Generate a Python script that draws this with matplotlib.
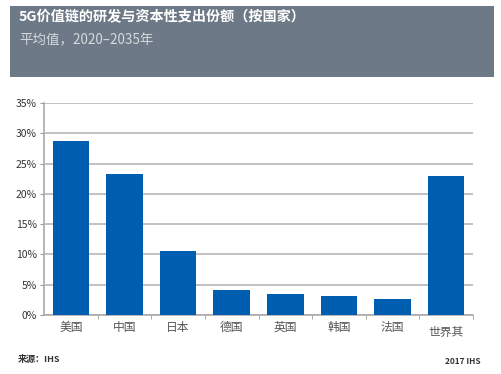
import matplotlib.pyplot as plt
from matplotlib.patches import Rectangle
from matplotlib.transforms import ScaledTranslation

plt.rcParams['font.family'] = ['Noto Sans CJK SC', 'DejaVu Sans']

# Data
countries = ["美国", "中国", "日本", "德国", "英国", "韩国", "法国", "世界其"]
shares = [28.8, 23.2, 10.6, 4.2, 3.4, 3.1, 2.7, 23.0]

fig = plt.figure(figsize=(5.02, 3.74), dpi=100)
W, H = 502, 374

# Header box
fig.patches.append(Rectangle((10 / W, 1 - 77 / H), 484 / W, 71 / H,
                             transform=fig.transFigure, facecolor="#6e7987",
                             edgecolor="none"))
fig.text(19 / W, 1 - 17 / H, "5G价值链的研发与资本性支出份额（按国家）",
         color="white", fontsize=10.2, fontweight="bold", va="center")
fig.text(19 / W, 1 - 40 / H, "平均值，2020–2035年",
         color="#d5d9de", fontsize=9.7, va="center")

ax = fig.add_axes([44 / W, 1 - 315 / H, 429 / W, 212 / H])
x = range(len(countries))
ax.bar(x, shares, width=0.68, color="#005eb0", zorder=3)

ax.set_ylim(0, 35)
ax.set_xlim(-0.5, len(countries) - 0.5)
ax.set_yticks(range(0, 36, 5))
ax.set_yticklabels([f"{v}%" for v in range(0, 36, 5)], fontsize=7.5,
                   color="#333333")
ax.grid(axis="y", color="#b8b8b8", linewidth=1.2, zorder=0)

ax.set_xticks(list(x))
ax.set_xticklabels(countries, fontsize=8.5, color="#555555")
ax.tick_params(axis="x", length=0, pad=4)
ax.set_xticks([i + 0.5 for i in range(len(countries))], minor=True)
ax.tick_params(axis="x", which="minor", length=3, color="#999999")
ax.tick_params(axis="y", length=3, color="#999999", pad=2)

# last label sits a little lower in the original
last = ax.get_xticklabels()[-1]
last.set_transform(last.get_transform() + ScaledTranslation(0, -4 / 72, fig.dpi_scale_trans))

for s in ["top", "right"]:
    ax.spines[s].set_visible(False)
ax.spines["left"].set_color("#aaaaaa")
ax.spines["bottom"].set_color("#aaaaaa")
ax.spines["left"].set_linewidth(1.2)
ax.spines["bottom"].set_linewidth(1.2)

fig.text(18 / W, 1 - 359 / H, "来源：IHS", fontsize=6.5, color="#333333",
         fontweight="bold", va="center")
fig.text(445 / W, 1 - 361 / H, "2017 IHS", fontsize=6, color="#333333",
         fontweight="bold", va="center")

plt.savefig("out.png", dpi=100)
plt.close()
